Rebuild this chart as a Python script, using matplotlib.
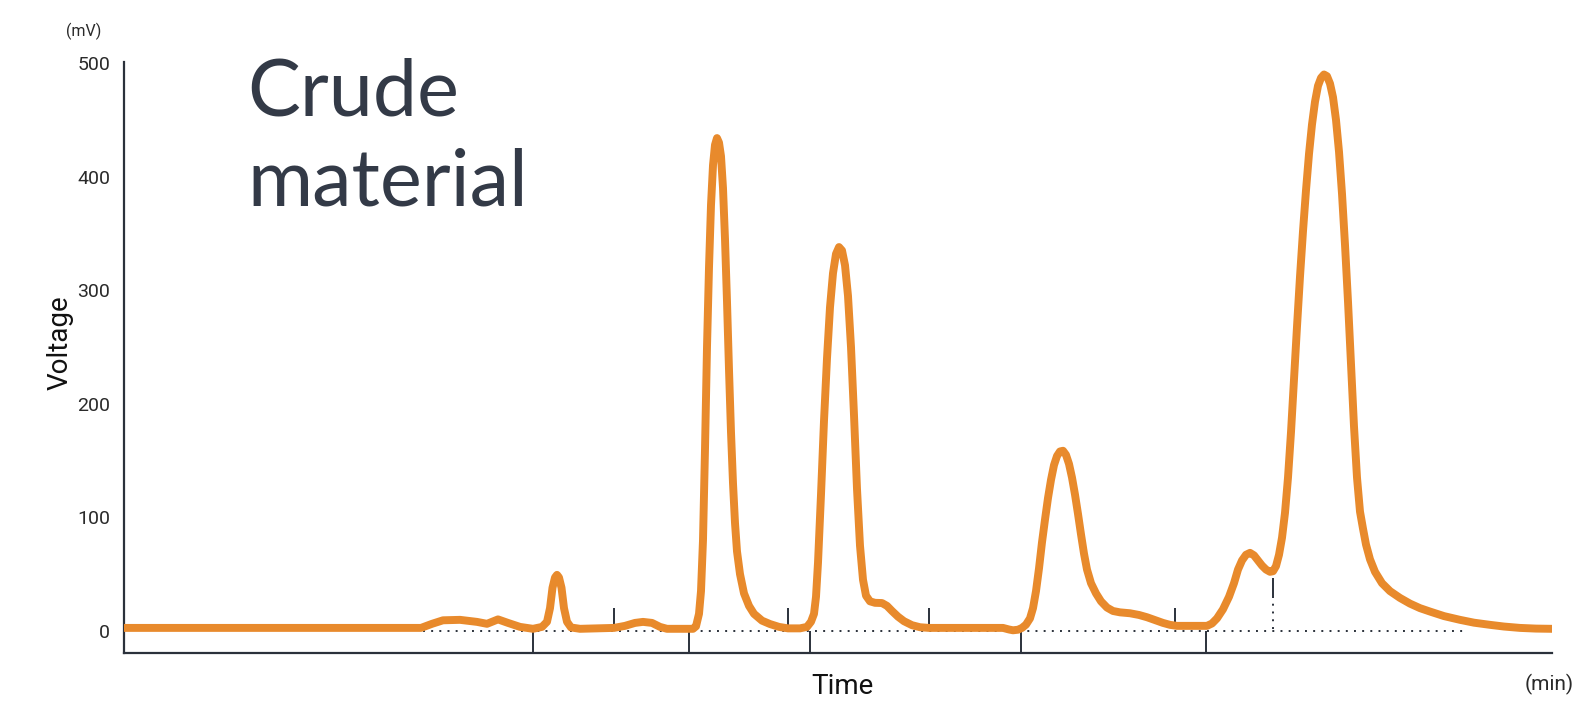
import matplotlib
matplotlib.use("Agg")
import matplotlib.pyplot as plt

# Chromatogram trace (time in arbitrary min units, voltage in mV)
time = [0.0, 29.7, 30.8, 31.9, 33.6, 35.3, 36.3, 37.4, 38.4, 39.6, 40.9, 41.8, 42.3, 42.6, 42.85, 43.1,
        43.3, 43.5, 43.75, 44.0, 44.3, 44.7, 45.6, 49.0, 50.1, 51.1, 51.9, 52.8, 53.6, 54.3,
        56.9, 57.2, 57.5, 57.7, 57.9, 58.1, 58.3, 58.5, 58.7, 58.9, 59.1, 59.3, 59.5, 59.7, 59.9,
        60.1, 60.3, 60.5, 60.7, 60.9, 61.1, 61.3, 61.6, 62.0, 62.5, 63.0, 63.8, 64.6, 65.5, 66.4,
        67.6, 68.3, 68.7, 69.0, 69.2, 69.4, 69.7, 70.0, 70.3, 70.6, 70.9, 71.2, 71.5, 71.8, 72.1,
        72.4, 72.7, 73.0, 73.3, 73.6, 73.9, 74.2, 74.6, 75.1, 75.8, 76.3, 76.8, 77.4, 78.0, 78.8,
        79.6, 80.5, 87.9, 88.5, 88.9, 89.4, 89.8, 90.2, 90.6, 90.9, 91.2, 91.5, 91.8, 92.1, 92.4,
        92.7, 93.0, 93.3, 93.6, 93.9, 94.2, 94.5, 94.8, 95.1, 95.4, 95.7, 96.0, 96.3, 96.7, 97.2,
        97.7, 98.3, 98.9, 99.6, 100.6, 101.5, 102.3, 103.1, 103.9, 104.6, 105.3, 108.3, 108.8,
        109.3, 109.9, 110.5, 111.0, 111.4, 111.8, 112.2, 112.6, 113.0, 113.4, 113.8, 114.2, 114.6,
        114.9, 115.2, 115.5, 115.8, 116.1, 116.4, 116.7, 117.0, 117.3, 117.6, 117.9, 118.2, 118.5,
        118.8, 119.1, 119.4, 119.7, 120.0, 120.3, 120.6, 120.9, 121.2, 121.5, 121.8, 122.1, 122.4,
        122.7, 123.0, 123.3, 123.6, 123.9, 124.2, 124.6, 125.1, 125.8, 126.6, 127.6, 128.6, 129.6,
        130.6, 132.0, 133.6, 135.0, 136.6, 138.0, 139.6, 141.2, 142.8]
voltage = [2.6, 2.6, 6.2, 9.3, 9.7, 7.9, 6.2, 10.1, 7.0, 3.5, 1.8, 3.5, 8.0, 20.0, 38.0, 47.0,
           49.3, 47.0, 38.0, 20.0, 8.0, 3.0, 1.8, 2.6, 4.4, 7.0, 7.9, 7.0, 3.5, 1.8,
           1.8, 4.0, 15.0, 35.0, 80.0, 160.0, 250.0, 320.0, 375.0, 410.0, 428.0, 434.0, 430.0, 418.0, 390.0,
           345.0, 290.0, 230.0, 175.0, 130.0, 95.0, 70.0, 50.0, 33.0, 22.0, 15.0, 9.0, 6.0, 3.5, 2.2,
           2.2, 3.5, 8.0, 15.0, 30.0, 60.0, 120.0, 185.0, 240.0, 285.0, 315.0, 332.0, 338.0, 335.0, 322.0,
           295.0, 250.0, 190.0, 125.0, 75.0, 45.0, 31.0, 26.0, 24.7, 24.5, 22.0, 17.5, 12.5, 8.5, 5.0,
           3.2, 2.6, 2.6, 1.2, 0.5, 1.0, 2.6, 5.5, 11.0, 20.0, 35.0, 55.0, 78.0, 98.0, 117.0,
           133.0, 146.0, 154.0, 158.0, 158.6, 155.0, 147.0, 135.0, 120.0, 103.0, 85.0, 68.0, 54.0, 42.0, 33.0,
           26.0, 20.5, 17.5, 16.3, 15.5, 14.0, 12.0, 9.5, 7.0, 5.3, 4.4, 4.4, 6.5,
           11.0, 19.0, 30.0, 42.0, 54.0, 62.0, 67.0, 68.7, 66.5, 62.0, 57.5, 54.0, 52.0,
           52.5, 57.0, 67.0, 82.0, 104.0, 135.0, 175.0, 222.0, 268.0, 312.0, 352.0, 388.0, 420.0,
           446.0, 466.0, 480.0, 487.0, 490.0, 488.5, 482.0, 470.0, 450.0, 422.0, 385.0, 340.0, 290.0,
           235.0, 180.0, 135.0, 105.0, 90.0, 76.0, 63.0, 52.0, 42.0, 35.0, 29.0, 24.0, 20.0,
           17.0, 13.0, 9.7, 7.2, 5.3, 3.8, 2.6, 2.0, 1.8]

# Peak-separation markers
lower_marks = [40.9, 56.5, 68.6, 89.7, 108.2]
upper_marks = [49.0, 66.4, 80.5, 105.1]
split_mark = 114.9
baseline_span = [29.9, 134.0]

y_ticks = [0, 100, 200, 300, 400, 500]
y_ticklabels = ["0", "100", "200", "300", "400", "500"]

W, H = 1577, 701
fig = plt.figure(figsize=(W / 100, H / 100), dpi=100)
ax = fig.add_axes([124 / W, (H - 653) / H, (1552 - 124) / W, (653 - 62) / H])

dark = "#2b313b"
orange = "#E88A2C"
ymin, ymax = -19.5, 501

# dotted baseline
ax.plot(baseline_span, [0, 0], color=dark, lw=1.4, ls=(0, (1, 3.2)), zorder=2)
for t in lower_marks:
    ax.plot([t, t], [0, ymin], color=dark, lw=1.4, zorder=2, solid_capstyle="butt")
for t in upper_marks:
    ax.plot([t, t], [3.5, 20.5], color=dark, lw=1.4, zorder=2, solid_capstyle="butt")
ax.plot([split_mark, split_mark], [28.5, 46.5], color=dark, lw=1.4, zorder=2, solid_capstyle="butt")
ax.plot([split_mark, split_mark], [1.5, 26.5], color=dark, lw=1.4, ls=(0, (1, 3.0)), zorder=2)

ax.plot(time, voltage, color=orange, lw=5.7, solid_joinstyle="round", solid_capstyle="round", zorder=3)

ax.set_xlim(0, 142.8)
ax.set_ylim(ymin, ymax)
ax.set_yticks(y_ticks)
ax.set_yticklabels(y_ticklabels)
ax.set_xticks([])
ax.tick_params(axis="y", length=0, pad=10, labelsize=14, labelcolor="#2a2a2a")
for lab in ax.get_yticklabels():
    lab.set_family("Roboto")
for s in ["top", "right"]:
    ax.spines[s].set_visible(False)
for s in ["left", "bottom"]:
    ax.spines[s].set_color(dark)
    ax.spines[s].set_linewidth(1.6)
ax.patch.set_alpha(0)

fig.text(84 / W, 1 - 31 / H, "(mV)", ha="center", va="center", fontsize=11.5, family="Roboto", color="#2a2a2a")
fig.text(60 / W, 1 - 343 / H, "Voltage", ha="center", va="center", rotation=90, fontsize=20,
         family="Roboto", color="#111111")
fig.text(842 / W, 1 - 686 / H, "Time", ha="center", va="center", fontsize=20,
         family="Roboto", color="#111111")
fig.text(1549 / W, 1 - 684 / H, "(min)", ha="center", va="center", fontsize=15, family="Roboto", color="#2a2a2a")

fig.text(247 / W, 1 - 116 / H, "Crude", ha="left", va="baseline", fontsize=57,
         family="Lato", fontweight="normal", color="#333a47")
fig.text(247 / W, 1 - 206 / H, "material", ha="left", va="baseline", fontsize=57,
         family="Lato", fontweight="normal", color="#333a47")

fig.savefig("out.png", dpi=100)
